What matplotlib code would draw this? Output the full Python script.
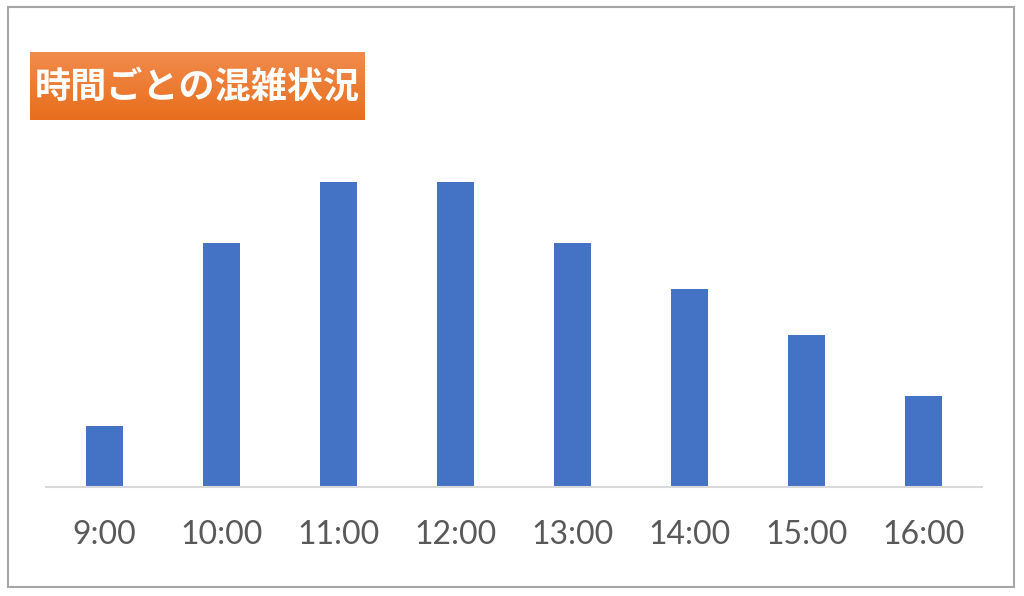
import matplotlib.pyplot as plt
import numpy as np
from matplotlib.patches import Rectangle

# data
hours = ['9:00', '10:00', '11:00', '12:00', '13:00', '14:00', '15:00', '16:00']
crowd = [2, 8, 10, 10, 8, 6.5, 5, 3]
title = '時間ごとの混雑状況'

W, H = 1024, 596
fig = plt.figure(figsize=(W / 100, H / 100), dpi=100)

# outer gray frame
fig.patches.append(Rectangle((8 / W, 1 - 587 / H), 1006 / W, 580 / H,
                             transform=fig.transFigure, fill=False,
                             edgecolor='#A6A6A6', linewidth=1.5))

ax = fig.add_axes([46 / W, 1 - 487 / H, 936 / W, 305 / H])
x = np.arange(len(hours))
ax.bar(x, crowd, width=0.316, color='#4472C4')
ax.set_xlim(-0.5, len(hours) - 0.5)
ax.set_ylim(0, 10)
ax.set_xticks(x)
ax.set_xticklabels(hours, fontsize=23, color='#595959', family=['Lato', 'DejaVu Sans'])
ax.tick_params(axis='x', length=0, pad=24)
ax.set_yticks([])
for s in ['top', 'right', 'left']:
    ax.spines[s].set_visible(False)
ax.spines['bottom'].set_color('#D9D9D9')
ax.spines['bottom'].set_linewidth(1.5)

# orange title box with vertical gradient
tax = fig.add_axes([30 / W, 1 - 120 / H, 335 / W, 68 / H])
top = np.array([0.945, 0.545, 0.30])
bot = np.array([0.91, 0.43, 0.11])
t = np.linspace(0, 1, 64)[:, None, None]
grad = np.repeat(top + (bot - top) * t, 2, axis=1)
tax.imshow(grad, aspect='auto', extent=[0, 1, 0, 1])
tax.set_axis_off()
tax.text(0.5, 0.48, title, color='white', fontsize=26, fontweight='bold',
         ha='center', va='center', family=['Noto Sans CJK JP', 'DejaVu Sans'],
         transform=tax.transAxes)

fig.savefig('out.png', dpi=100)
